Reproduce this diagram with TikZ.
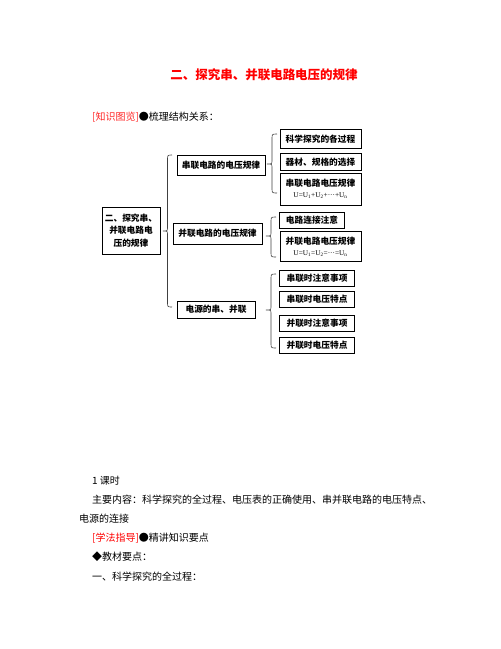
\documentclass[tikz,border=0pt]{standalone}
\usepackage{fontspec}
\setmainfont{Liberation Serif}
\newfontfamily\cjk{Noto Sans CJK SC}
\tikzset{
  box/.style={draw=black, line width=0.8pt, inner sep=0pt, align=center,
    font=\cjk\bfseries\fontsize{8.7}{12.5}\selectfont},
  brc/.style={draw=black!75, line width=0.6pt},
  txt/.style={inner sep=0pt, anchor=west, font=\cjk\fontsize{10}{12}\selectfont},
}
\newcommand\formulafont{\normalfont\fontsize{7.3}{9}\selectfont}
\newcommand\bracedraw[6]{% xt xm xe ytop ytip ybot
  \draw[brc] (#3,#4) .. controls (#2,#4) and (#2,#4) .. (#2,#4+5)
    -- (#2,#5-4) .. controls (#2,#5) and (#2,#5) .. (#1,#5)
    .. controls (#2,#5) and (#2,#5) .. (#2,#5+4)
    -- (#2,#6-5) .. controls (#2,#6) and (#2,#6) .. (#3,#6);}
\begin{document}
\begin{tikzpicture}[x=1pt,y=-1pt]
\useasboundingbox[fill=white] (0,0) rectangle (501,649);
% title
\node[inner sep=0pt, text=red, font=\cjk\bfseries\fontsize{12.5}{14}\selectfont] (title) at (264,75) {二、探究串、并联电路电压的规律};
\node[txt] (intro) at (92,117) {\textcolor{red!85}{[知识图览]}●梳理结构关系：};
% root and middle
\node[box, minimum width=58pt, minimum height=47pt] (root) at (131,230.5) {二、探究串、\\并联电路电\\压的规律};
\node[box, minimum width=88pt, minimum height=20pt] (m1) at (221,165) {串联电路的电压规律};
\node[box, minimum width=89pt, minimum height=21pt] (m2) at (217.5,233.5) {并联电路的电压规律};
\node[box, minimum width=78pt, minimum height=17pt] (m3) at (216,309.5) {电源的串、并联};
% right column
\node[box, minimum width=81pt, minimum height=19pt] (a1) at (320.5,139) {科学探究的各过程};
\node[box, minimum width=81pt, minimum height=17pt] (a2) at (320.5,162) {器材、规格的选择};
\node[box, minimum width=81pt, minimum height=32pt] (a3) at (320.5,189) {串联电路电压规律\\[-2pt]{\formulafont U=U\textsubscript{1}+U\textsubscript{2}+···+U\textsubscript{n}}};
\node[box, minimum width=65pt, minimum height=16pt] (b1) at (312,220.5) {电路连接注意};
\node[box, minimum width=81pt, minimum height=30pt] (b2) at (320.5,246.5) {并联电路电压规律\\[-2pt]{\formulafont U=U\textsubscript{1}=U\textsubscript{2}=···=U\textsubscript{n}}};
\node[box, minimum width=75pt, minimum height=16pt] (c1) at (317,278) {串联时注意事项};
\node[box, minimum width=75pt, minimum height=16pt] (c2) at (317,299) {串联时电压特点};
\node[box, minimum width=75pt, minimum height=16pt] (c3) at (317,323) {并联时注意事项};
\node[box, minimum width=75pt, minimum height=16pt] (c4) at (317,345) {并联时电压特点};
% braces
\bracedraw{163}{167.5}{172}{155}{231}{307}
\bracedraw{267}{272}{277}{134}{164}{193}
\bracedraw{266}{271}{276}{217}{236}{257}
\bracedraw{266}{271}{276}{274}{310}{348}
% body text
\node[txt] (l1) at (92,481) {1 课时};
\node[txt] (l2) at (92,500) {主要内容：科学探究的全过程、电压表的正确使用、串并联电路的电压特点、};
\node[txt] (l3) at (79,519) {电源的连接};
\node[txt] (l4) at (92,538) {\textcolor{red}{[学法指导]}●精讲知识要点};
\node[txt] (l5) at (92,557) {◆教材要点：};
\node[txt] (l6) at (92,577) {一、科学探究的全过程：};
\end{tikzpicture}
\end{document}
